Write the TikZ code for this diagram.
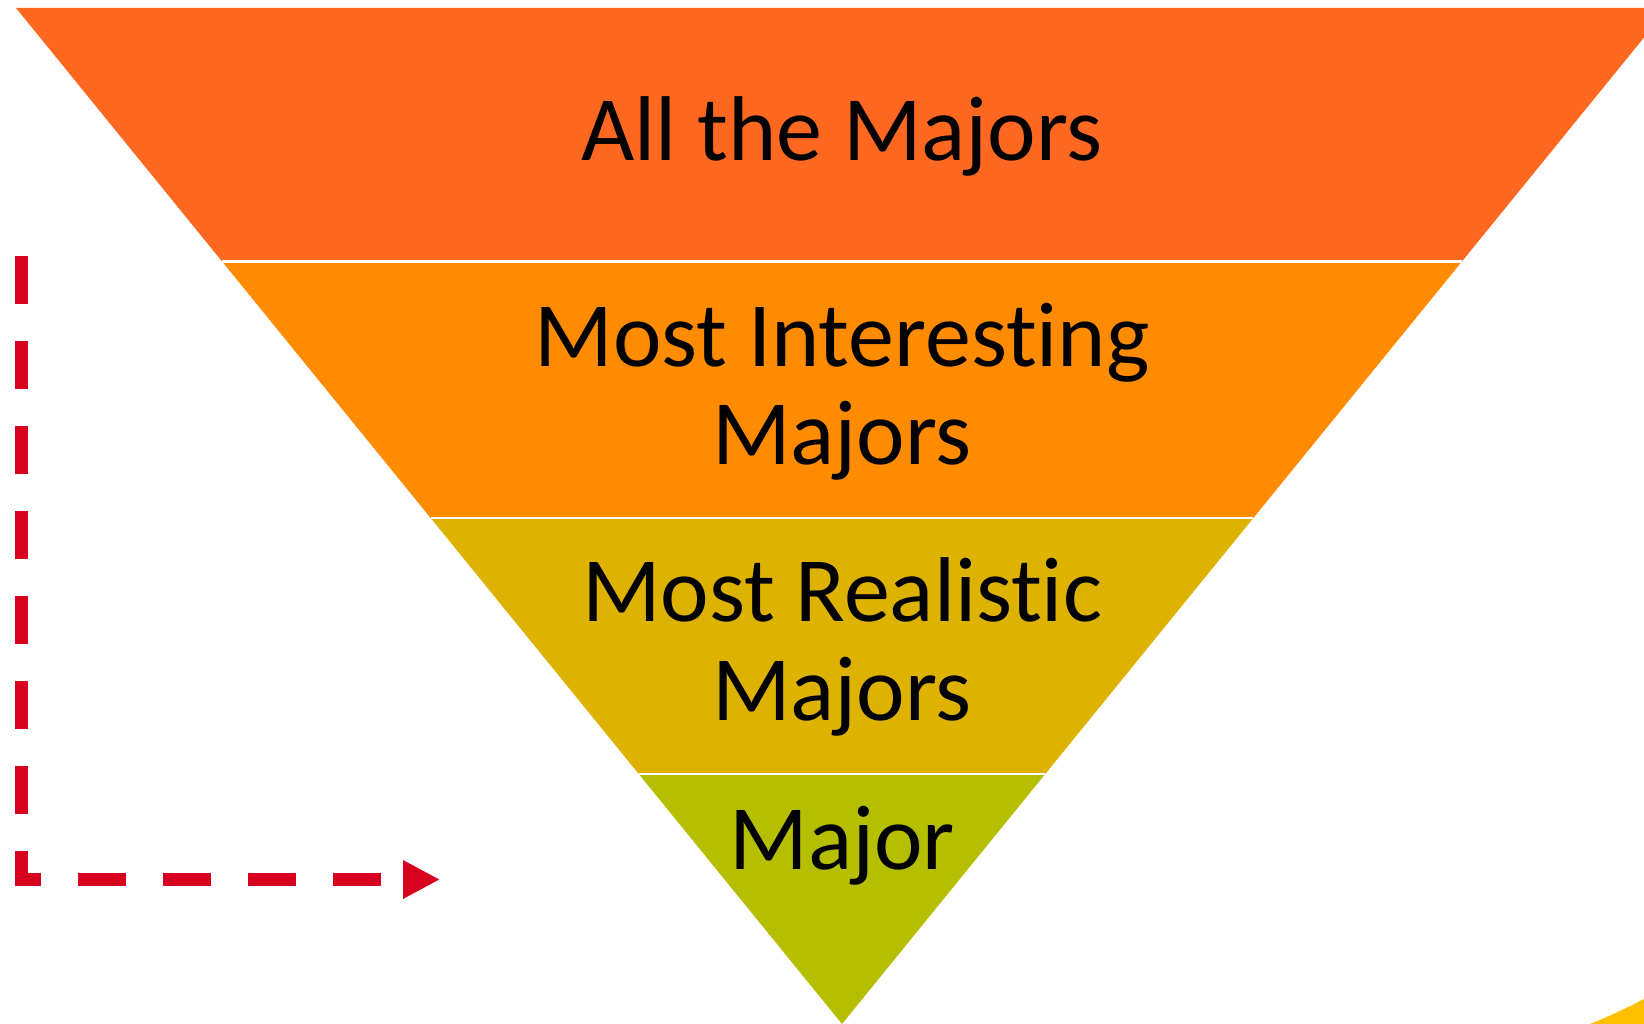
\documentclass[tikz,border=0pt]{standalone}
\usepackage{fontspec}
\setmainfont{Carlito}[Ligatures={NoCommon,NoRequired,NoContextual}]
\usetikzlibrary{arrows.meta,calc}

\definecolor{bandAll}{RGB}{255,104,32}
\definecolor{bandInteresting}{RGB}{255,140,0}
\definecolor{bandRealistic}{RGB}{221,178,0}
\definecolor{bandMajor}{RGB}{181,190,0}
\definecolor{arrowRed}{RGB}{215,0,30}
\definecolor{cornerYellow}{RGB}{255,192,0}

\begin{document}
\begin{tikzpicture}[x=1pt, y=-1pt,
        band text/.style={font=\fontsize{92}{98.5}\selectfont, align=center, inner sep=0pt, anchor=base},
        band gap/.style={white, line width=2.5pt}]
        \useasboundingbox (0,0) rectangle (1644,1024);
        \clip (0,0) rectangle (1644,1024);

        % Corners of the funnel
        \coordinate (tl) at (16,8);
        \coordinate (tr) at (1668,8);
        \coordinate (tip) at (842,1024);

        % Bands
        \foreach \a/\b/\c in {0/0.2495/bandAll, 0.2495/0.502/bandInteresting, 0.502/0.754/bandRealistic}
            \fill[\c] ($(tl)!\a!(tip)$) -- ($(tr)!\a!(tip)$) -- ($(tr)!\b!(tip)$) -- ($(tl)!\b!(tip)$) -- cycle;
        \fill[bandMajor] ($(tl)!0.754!(tip)$) -- ($(tr)!0.754!(tip)$) -- (tip) -- cycle;

        % White lines between the bands
        \foreach \a in {0.2495, 0.502, 0.754}
            \draw[band gap] ($(tl)!\a!(tip)$) -- ($(tr)!\a!(tip)$);

        % Labels (base = last line)
        \node[band text] (all) at (842,160.4) {All the Majors};
        \node[band text] (interesting) at (842,464.5) {Most Interesting\\Majors};
        \node[band text] (realistic) at (842,720) {Most Realistic\\Majors};
        \node[band text] (major) at (842,869) {Major};

        % Dashed arrow
        \coordinate (arrStart) at (21.25,256);
        \coordinate (arrCorner) at (21.25,879.5);
        \coordinate (arrEnd) at (440,879.5);
        \draw[arrowRed, line width=12.5pt, dash pattern=on 48pt off 37pt,
            -{Triangle[length=37pt, width=36pt]}] (arrStart) -- (arrCorner) -- (arrEnd);

        % Edge of a shape in the corner
        \fill[cornerYellow] (1644,999) .. controls (1625,1009) and (1605,1018) .. (1590,1024) -- (1644,1024) -- cycle;
    \end{tikzpicture}
\end{document}
